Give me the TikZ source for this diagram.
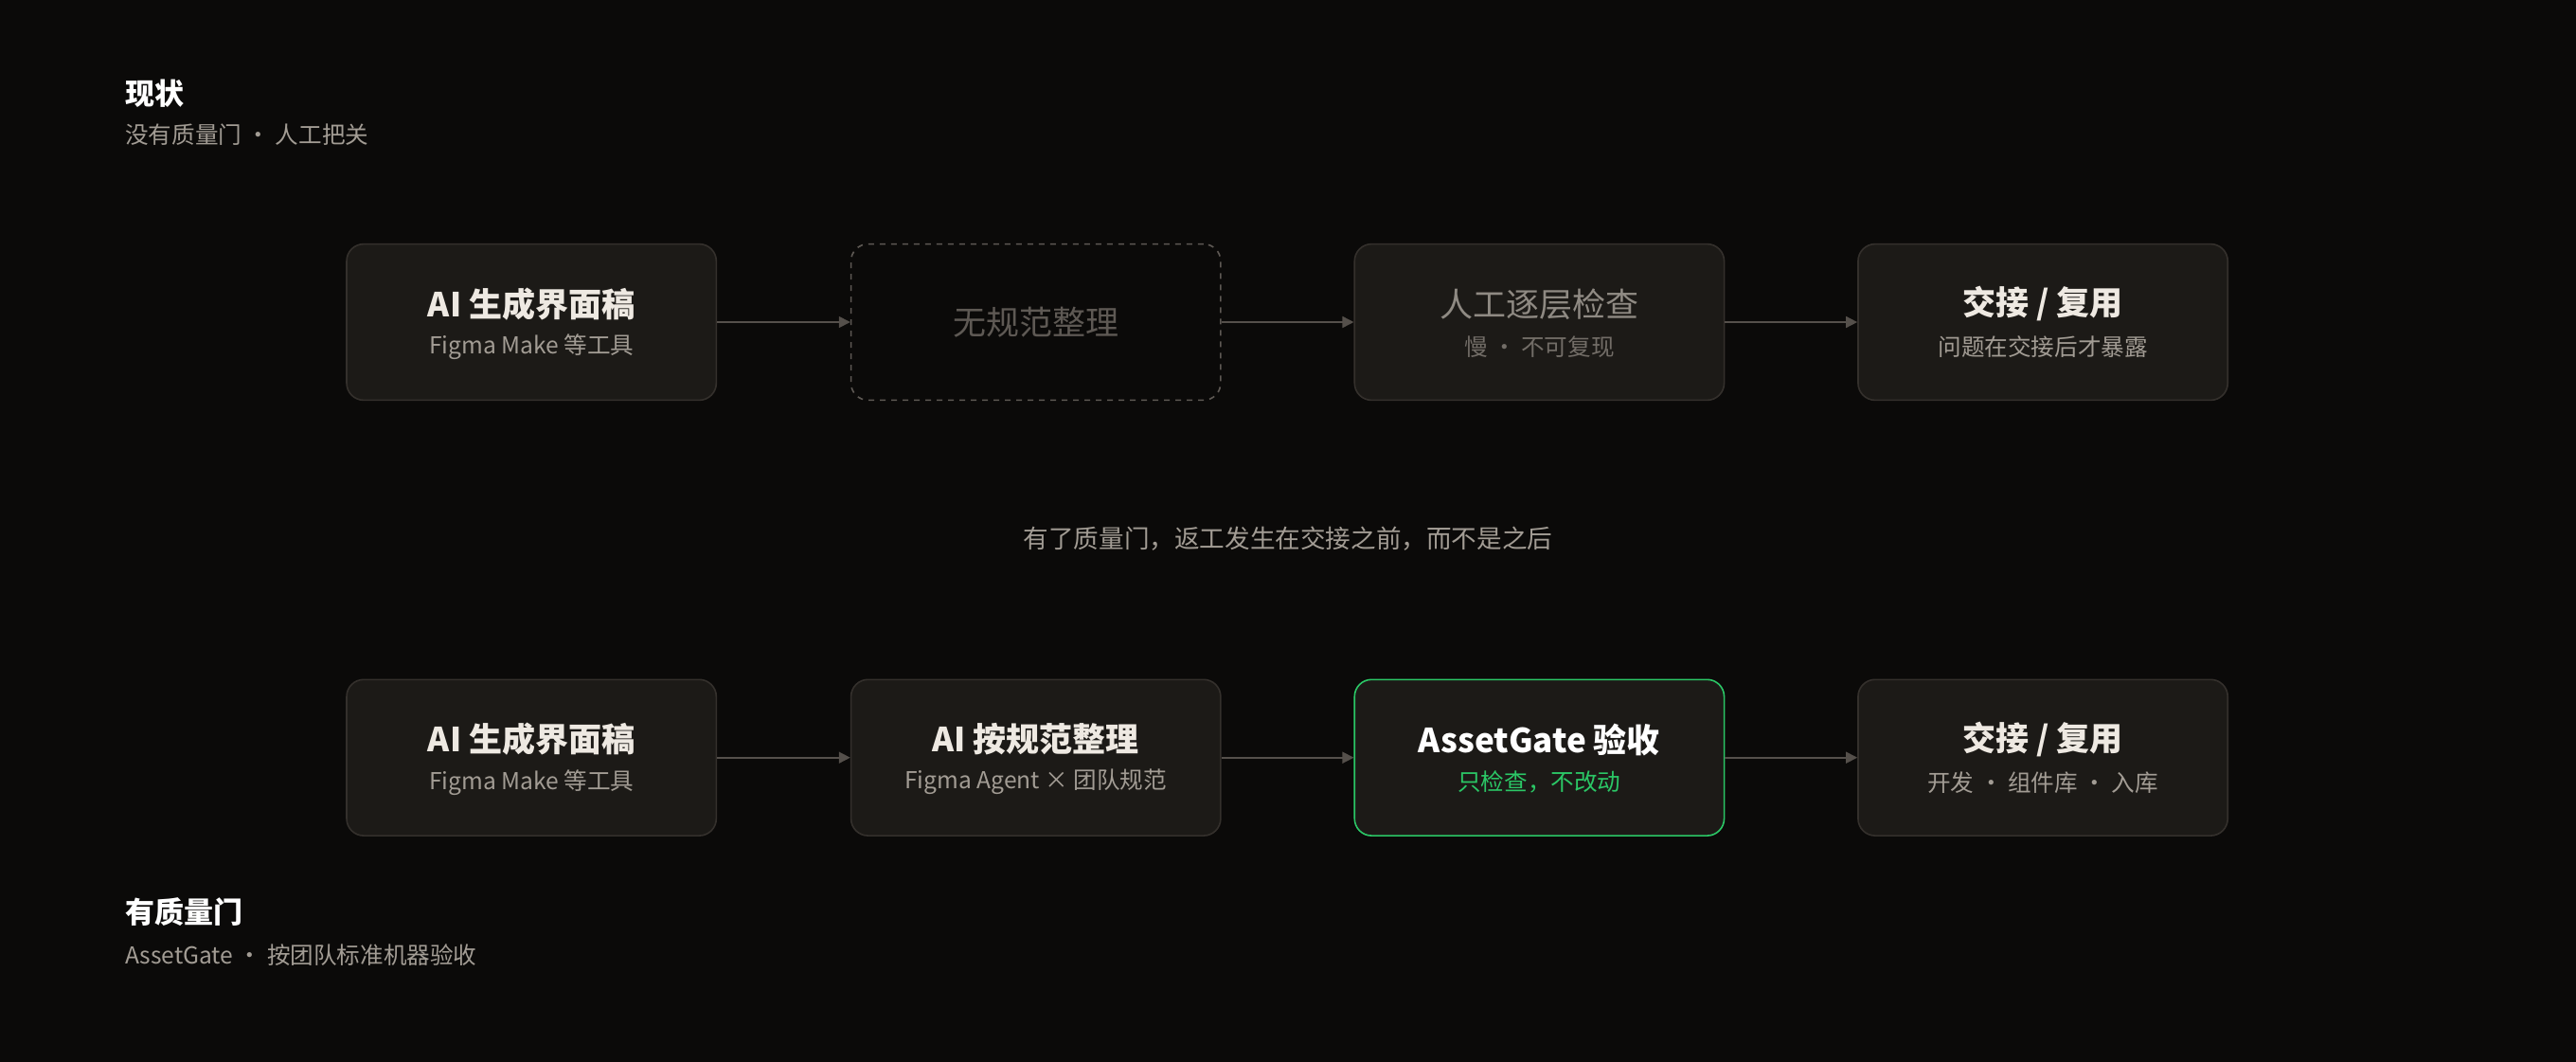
\documentclass[tikz,border=0pt]{standalone}
\usepackage{fontspec}
\setmainfont{Noto Sans CJK SC}
\usetikzlibrary{arrows.meta}
\definecolor{bg}{HTML}{0B0A09}
\definecolor{boxfill}{HTML}{1C1A17}
\definecolor{boxline}{HTML}{34302C}
\definecolor{ttl}{HTML}{EEE9E2}
\definecolor{sub}{HTML}{A29C94}
\definecolor{dim}{HTML}{5E5954}
\definecolor{mid}{HTML}{8F8A83}
\definecolor{grn}{HTML}{2BC766}
\definecolor{arr}{HTML}{55504B}
\begin{document}
\begin{tikzpicture}[x=0.8673pt,y=-0.8673pt,
  box/.style={draw=boxline,fill=boxfill,rounded corners=9pt,minimum width=225*0.8673pt,minimum height=95*0.8673pt,line width=0.8pt},
  t/.style={font=\fontsize{17.5}{20}\selectfont\bfseries,text=ttl},
  s/.style={font=\fontsize{12.3}{14}\selectfont,text=sub},
  ar/.style={draw=arr,line width=0.8pt,-{Triangle[length=6pt,width=6pt]}}]
\fill[bg] (0,0) rectangle (1568,646);
\useasboundingbox (0,0) rectangle (1568,646);
\node[anchor=west,inner sep=0pt,font=\fontsize{15.5}{18}\selectfont\bfseries,text=white] (h1) at (76,57) {现状};
\node[anchor=west,inner sep=0pt,s] (h1s) at (76,82) {没有质量门 · 人工把关};
% row 1
\node[box] (a1) at (323.5,196) {};
\node[t] (a1t) at (323.5,185) {AI 生成界面稿};
\node[s] (a1s) at (323.5,211) {Figma Make 等工具};
\node[box,draw=dim,dashed,fill=bg] (b1) at (630.5,196) {};
\node[font=\fontsize{17.5}{20}\selectfont,text=dim] (b1t) at (630.5,196) {无规范整理};
\node[box] (c1) at (937,196) {};
\node[font=\fontsize{17.5}{20}\selectfont,text=mid] (c1t) at (937,185) {人工逐层检查};
\node[font=\fontsize{12.3}{14}\selectfont,text=dim!60!mid] (c1s) at (937,211) {慢 · 不可复现};
\node[box] (d1) at (1243.5,196) {};
\node[t] (d1t) at (1243.5,185) {交接 / 复用};
\node[s] (d1s) at (1243.5,211) {问题在交接后才暴露};
\draw[ar] (a1) -- (b1);
\draw[ar] (b1) -- (c1);
\draw[ar] (c1) -- (d1);
\node[font=\fontsize{13.3}{16}\selectfont,text=sub] (mid) at (784,328) {有了质量门，返工发生在交接之前，而不是之后};
% row 2
\node[box] (a2) at (323.5,461) {};
\node[t] (a2t) at (323.5,450) {AI 生成界面稿};
\node[s] (a2s) at (323.5,476) {Figma Make 等工具};
\node[box] (b2) at (630.5,461) {};
\node[t] (b2t) at (630.5,450) {AI 按规范整理};
\node[s] (b2s) at (630.5,476) {Figma Agent × 团队规范};
\node[box,draw=grn] (c2) at (937,461) {};
\node[t,text=white] (c2t) at (937,450) {AssetGate 验收};
\node[font=\fontsize{12.3}{14}\selectfont,text=grn] (c2s) at (937,476) {只检查，不改动};
\node[box] (d2) at (1243.5,461) {};
\node[t] (d2t) at (1243.5,450) {交接 / 复用};
\node[s] (d2s) at (1243.5,476) {开发 · 组件库 · 入库};
\draw[ar] (a2) -- (b2);
\draw[ar] (b2) -- (c2);
\draw[ar] (c2) -- (d2);
\node[anchor=west,inner sep=0pt,font=\fontsize{15.5}{18}\selectfont\bfseries,text=white] (h2) at (76,555) {有质量门};
\node[anchor=west,inner sep=0pt,s] (h2s) at (76,581) {AssetGate · 按团队标准机器验收};
\end{tikzpicture}
\end{document}
